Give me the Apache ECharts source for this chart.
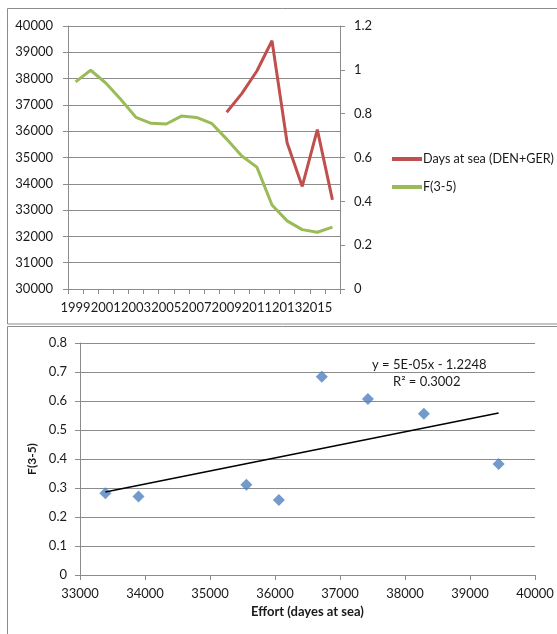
<!DOCTYPE html>
<html>
<head>
<meta charset="utf-8">
<script src="https://cdn.jsdelivr.net/npm/echarts@6/dist/echarts.min.js"></script>
<style>
html,body{margin:0;padding:0;background:#fff;}
#c{width:557px;height:634px;}
</style>
</head>
<body>
<div id="c"></div>
<script>
// ---- data ----
const years = ['1999','2000','2001','2002','2003','2004','2005','2006','2007','2008',
               '2009','2010','2011','2012','2013','2014','2015','2016'];
const daysAtSea = [null,null,null,null,null,null,null,null,null,null,
                   36720,37430,38290,39440,35560,33900,36060,33390];
const fishingMortality = [0.945,0.998,0.94,0.865,0.783,0.756,0.753,0.789,0.783,0.756,
                          0.684,0.607,0.556,0.383,0.311,0.271,0.259,0.282];
const leftTicks = [30000, 40000, 1000];
const rightTicks = [0, 1.2, 0.2];
const scatterXTicks = [33000, 40000, 1000];
const scatterYTicks = [0, 0.8, 0.1];
const trendText = ['y = 5E-05x - 1.2248', 'R\u00B2 = 0.3002'];

// scatter pairs built from the arrays above
const pairs = [];
for (let i = 0; i < years.length; i++) {
  if (daysAtSea[i] != null) pairs.push([daysAtSea[i], fishingMortality[i]]);
}
// least-squares trend line from the pairs
const n = pairs.length;
const mx = pairs.reduce((s,p)=>s+p[0],0)/n;
const my = pairs.reduce((s,p)=>s+p[1],0)/n;
let sxy = 0, sxx = 0;
pairs.forEach(p=>{ sxy += (p[0]-mx)*(p[1]-my); sxx += (p[0]-mx)*(p[0]-mx); });
const slope = sxy/sxx, icpt = my - slope*mx;
const xmin = Math.min(...pairs.map(p=>p[0])), xmax = Math.max(...pairs.map(p=>p[0]));
const trend = [[xmin, slope*xmin+icpt],[xmax, slope*xmax+icpt]];

const FONT = 'Lato, "Open Sans", sans-serif';
const GRID = '#8c8c8c';
const TXT = '#1a1a1a';
const plain = v => String(Math.round(v*1000)/1000);

const chart = echarts.init(document.getElementById('c'), null, {renderer:'canvas'});
chart.setOption({
  animation: false,
  backgroundColor: '#fff',
  textStyle: {fontFamily: FONT},
  graphic: [
    {type:'rect', shape:{x:7.5, y:8.5, width:560, height:315.5}, style:{fill:'none', stroke:'#8c8c8c', lineWidth:1}, silent:true},
    {type:'rect', shape:{x:7.5, y:326.5, width:560, height:320}, style:{fill:'none', stroke:'#8c8c8c', lineWidth:1}, silent:true},
    {type:'text', left: 372, top: 358, style:{text: trendText[0], font:'13px ' + FONT, fill: TXT}},
    {type:'text', left: 393, top: 375, style:{text: trendText[1], font:'13px ' + FONT, fill: TXT}}
  ],
  legend: {
    orient: 'vertical',
    left: 387, top: 146,
    itemWidth: 30, itemHeight: 4,
    itemGap: 12,
    icon: 'rect',
    data: ['Days at sea (DEN+GER)', 'F(3-5)'],
    textStyle: {fontFamily: FONT, fontSize: 12.6, color: TXT, lineHeight: 16, padding:[0,0,0,-4]}
  },
  grid: [
    {left: 68, right: 217, top: 26, height: 263},
    {left: 80, right: 22, top: 343, height: 232}
  ],
  xAxis: [
    {
      gridIndex: 0, type: 'category', data: years, boundaryGap: true,
      axisLine: {lineStyle: {color: GRID}},
      axisTick: {show: true, interval: 0, length: 5, lineStyle:{color: GRID}},
      axisLabel: {interval: 1, margin: 12, fontSize: 13, color: TXT, fontFamily: FONT},
      splitLine: {show: false}
    },
    {
      gridIndex: 1, type: 'value', min: scatterXTicks[0], max: scatterXTicks[1], interval: scatterXTicks[2],
      axisLine: {show: true, lineStyle: {color: GRID}},
      axisTick: {show: true, length: 5, lineStyle:{color: GRID}},
      axisLabel: {margin: 12, fontSize: 13, color: TXT, fontFamily: FONT, formatter: plain},
      splitLine: {show: false},
      name: 'Effort (dayes at sea)', nameLocation: 'middle', nameGap: 30,
      nameTextStyle: {fontWeight: 'bold', fontSize: 13, color: TXT, fontFamily: FONT}
    }
  ],
  yAxis: [
    {
      gridIndex: 0, type: 'value', min: leftTicks[0], max: leftTicks[1], interval: leftTicks[2],
      axisLine: {show: true, lineStyle: {color: GRID}},
      axisTick: {show: true, length: 5, lineStyle:{color: GRID}},
      axisLabel: {margin: 15, fontSize: 13, color: TXT, fontFamily: FONT, formatter: plain},
      splitLine: {show: true, lineStyle: {color: GRID, width: 1}}
    },
    {
      gridIndex: 0, type: 'value', position: 'right', min: rightTicks[0], max: rightTicks[1], interval: rightTicks[2],
      axisLine: {show: true, lineStyle: {color: GRID}},
      axisTick: {show: true, length: 5, lineStyle:{color: GRID}},
      axisLabel: {margin: 14, fontSize: 13, color: TXT, fontFamily: FONT, formatter: plain},
      splitLine: {show: false}
    },
    {
      gridIndex: 1, type: 'value', min: scatterYTicks[0], max: scatterYTicks[1], interval: scatterYTicks[2],
      axisLine: {show: true, lineStyle: {color: GRID}},
      axisTick: {show: true, length: 5, lineStyle:{color: GRID}},
      axisLabel: {margin: 13, fontSize: 13, color: TXT, fontFamily: FONT, formatter: plain},
      splitLine: {show: true, lineStyle: {color: GRID, width: 1}},
      name: 'F(3-5)', nameLocation: 'middle', nameGap: 36, nameRotate: 90,
      nameTextStyle: {fontWeight: 'bold', fontSize: 12, color: TXT, fontFamily: FONT}
    }
  ],
  series: [
    {
      name: 'Days at sea (DEN+GER)', type: 'line', xAxisIndex: 0, yAxisIndex: 0,
      data: daysAtSea, showSymbol: false, symbol: 'none', connectNulls: false,
      lineStyle: {color: '#C0504D', width: 3}, itemStyle: {color: '#C0504D'}
    },
    {
      name: 'F(3-5)', type: 'line', xAxisIndex: 0, yAxisIndex: 1,
      data: fishingMortality, showSymbol: false, symbol: 'none',
      lineStyle: {color: '#9BBB59', width: 3}, itemStyle: {color: '#9BBB59'}
    },
    {
      name: 'scatter', type: 'scatter', xAxisIndex: 1, yAxisIndex: 2,
      data: pairs, symbol: 'diamond', symbolSize: [12, 12],
      itemStyle: {color: '#4F81BD'}
    },
    {
      name: 'trend', type: 'line', xAxisIndex: 1, yAxisIndex: 2,
      data: trend, showSymbol: false, symbol: 'none',
      lineStyle: {color: '#000', width: 1.5}
    }
  ]
});
</script>
</body>
</html>
